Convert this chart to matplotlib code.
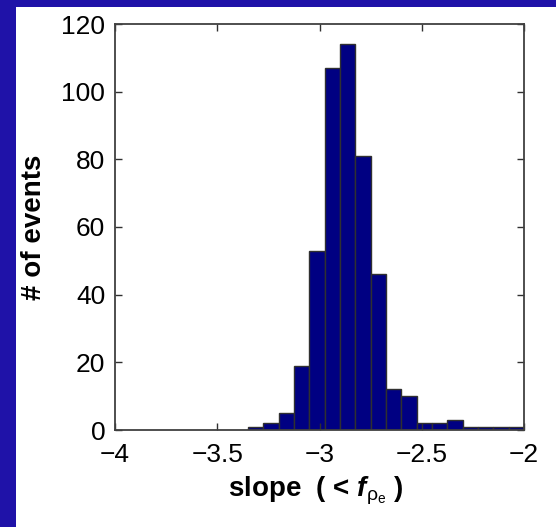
import matplotlib
matplotlib.use('Agg')
import matplotlib.pyplot as plt
from matplotlib.patches import Rectangle

plt.rcParams.update({
    'font.family': 'Liberation Sans',
    'mathtext.fontset': 'custom',
    'mathtext.rm': 'Liberation Sans',
    'mathtext.it': 'Liberation Sans:italic:bold',
    'mathtext.bf': 'Liberation Sans:bold',
})

# histogram bins (left edges) and counts
BIN_LEFT = -3.35
BIN_WIDTH = 0.075
counts = [1, 2, 5, 19, 53, 107, 114, 81, 46, 12, 10, 2, 2, 3, 1, 1, 1, 1]
bin_centres = [BIN_LEFT + BIN_WIDTH * (i + 0.5) for i in range(len(counts))]

x_ticks = [-4, -3.5, -3, -2.5, -2]
x_tick_labels = ['\u22124', '\u22123.5', '\u22123', '\u22122.5', '\u22122']
y_ticks = [0, 20, 40, 60, 80, 100, 120]

BG_BLUE = '#1f12a8'
BAR_BLUE = '#000082'

fig = plt.figure(figsize=(5.56, 5.27), dpi=100, facecolor=BG_BLUE)
fig.patches.append(Rectangle((16 / 556, 0), 1, (527 - 7) / 527,
                             transform=fig.transFigure, facecolor='white',
                             edgecolor='none', zorder=-10))

ax = fig.add_axes([115 / 556, (527 - 430) / 527, 409 / 556, 406 / 527])
ax.set_zorder(1)
ax.bar(bin_centres, counts, width=BIN_WIDTH, color=BAR_BLUE,
       edgecolor='#303030', linewidth=1.0)

ax.set_xlim(-4, -2)
ax.set_ylim(0, 120)
ax.set_xticks(x_ticks)
ax.set_xticklabels(x_tick_labels)
ax.set_yticks(y_ticks)
ax.tick_params(direction='in', length=5, width=1, top=True, right=True,
               labelsize=19, colors='#303030', labelcolor='black')
ax.tick_params(axis='x', pad=9)
ax.tick_params(axis='y', pad=7)
for s in ax.spines.values():
    s.set_color('#404040')
    s.set_linewidth(1.3)

ax.set_ylabel('# of events', fontsize=20, fontweight='bold')
ax.yaxis.set_label_coords(-0.166, 0.5)
ax.set_xlabel(r'slope  ( < $f_{\mathrm{\rho_e}}$ )', fontsize=20, fontweight='bold')
ax.xaxis.set_label_coords(0.49, -0.11)

fig.savefig('out.png', dpi=100, facecolor=fig.get_facecolor())
